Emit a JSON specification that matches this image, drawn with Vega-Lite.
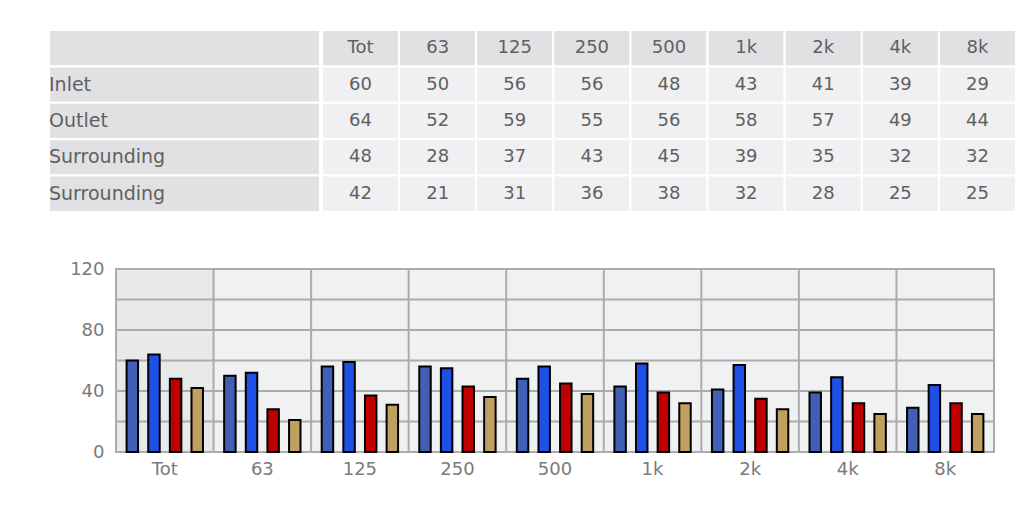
{
  "$schema": "https://vega.github.io/schema/vega-lite/v6.json",
  "padding": {"left": 48, "top": 29, "right": 0, "bottom": 0},
  "background": "white",
  "spacing": 46,
  "config": {
    "view": {"stroke": null},
    "font": "DejaVu Sans",
    "concat": {"spacing": 0}
  },
  "datasets": {
    "levels": [
      {"id": "s1", "series": "Inlet", "band": "Tot", "value": 60},
      {"id": "s1", "series": "Inlet", "band": "63", "value": 50},
      {"id": "s1", "series": "Inlet", "band": "125", "value": 56},
      {"id": "s1", "series": "Inlet", "band": "250", "value": 56},
      {"id": "s1", "series": "Inlet", "band": "500", "value": 48},
      {"id": "s1", "series": "Inlet", "band": "1k", "value": 43},
      {"id": "s1", "series": "Inlet", "band": "2k", "value": 41},
      {"id": "s1", "series": "Inlet", "band": "4k", "value": 39},
      {"id": "s1", "series": "Inlet", "band": "8k", "value": 29},
      {"id": "s2", "series": "Outlet", "band": "Tot", "value": 64},
      {"id": "s2", "series": "Outlet", "band": "63", "value": 52},
      {"id": "s2", "series": "Outlet", "band": "125", "value": 59},
      {"id": "s2", "series": "Outlet", "band": "250", "value": 55},
      {"id": "s2", "series": "Outlet", "band": "500", "value": 56},
      {"id": "s2", "series": "Outlet", "band": "1k", "value": 58},
      {"id": "s2", "series": "Outlet", "band": "2k", "value": 57},
      {"id": "s2", "series": "Outlet", "band": "4k", "value": 49},
      {"id": "s2", "series": "Outlet", "band": "8k", "value": 44},
      {"id": "s3", "series": "Surrounding", "band": "Tot", "value": 48},
      {"id": "s3", "series": "Surrounding", "band": "63", "value": 28},
      {"id": "s3", "series": "Surrounding", "band": "125", "value": 37},
      {"id": "s3", "series": "Surrounding", "band": "250", "value": 43},
      {"id": "s3", "series": "Surrounding", "band": "500", "value": 45},
      {"id": "s3", "series": "Surrounding", "band": "1k", "value": 39},
      {"id": "s3", "series": "Surrounding", "band": "2k", "value": 35},
      {"id": "s3", "series": "Surrounding", "band": "4k", "value": 32},
      {"id": "s3", "series": "Surrounding", "band": "8k", "value": 32},
      {"id": "s4", "series": "Surrounding", "band": "Tot", "value": 42},
      {"id": "s4", "series": "Surrounding", "band": "63", "value": 21},
      {"id": "s4", "series": "Surrounding", "band": "125", "value": 31},
      {"id": "s4", "series": "Surrounding", "band": "250", "value": 36},
      {"id": "s4", "series": "Surrounding", "band": "500", "value": 38},
      {"id": "s4", "series": "Surrounding", "band": "1k", "value": 32},
      {"id": "s4", "series": "Surrounding", "band": "2k", "value": 28},
      {"id": "s4", "series": "Surrounding", "band": "4k", "value": 25},
      {"id": "s4", "series": "Surrounding", "band": "8k", "value": 25}
    ],
    "bands": [
      {"band": "Tot"}, {"band": "63"}, {"band": "125"}, {"band": "250"}, {"band": "500"},
      {"band": "1k"}, {"band": "2k"}, {"band": "4k"}, {"band": "8k"}
    ],
    "rows": [
      {"id": "h", "series": ""},
      {"id": "s1", "series": "Inlet"},
      {"id": "s2", "series": "Outlet"},
      {"id": "s3", "series": "Surrounding"},
      {"id": "s4", "series": "Surrounding"}
    ],
    "grid": [
      {"v": 0}, {"v": 20}, {"v": 40}, {"v": 60}, {"v": 80}, {"v": 100}, {"v": 120}
    ]
  },
  "vconcat": [
    {
      "spacing": 0,
      "hconcat": [
        {
          "width": 271,
          "height": 182,
          "data": {"name": "rows"},
          "encoding": {
            "y": {"field": "id", "type": "nominal", "axis": null,
                  "scale": {"domain": ["h", "s1", "s2", "s3", "s4"], "paddingInner": 0, "paddingOuter": 0}}
          },
          "layer": [
            {
              "mark": {"type": "rect", "fill": "#e1e1e3", "stroke": "white", "strokeWidth": 2},
              "encoding": {
                "x": {"datum": 0, "type": "quantitative", "axis": null, "scale": {"domain": [0, 1]}},
                "x2": {"datum": 1}
              }
            },
            {
              "mark": {"type": "text", "align": "left", "baseline": "middle", "fontSize": 19, "fill": "#606060"},
              "encoding": {
                "x": {"datum": 0, "type": "quantitative"},
                "text": {"field": "series"}
              }
            }
          ]
        },
        {
          "width": 694,
          "height": 182,
          "encoding": {
            "x": {"field": "band", "type": "nominal", "axis": null,
                  "scale": {"domain": ["Tot", "63", "125", "250", "500", "1k", "2k", "4k", "8k"], "paddingInner": 0, "paddingOuter": 0}},
            "y": {"field": "id", "type": "nominal", "axis": null,
                  "scale": {"domain": ["h", "s1", "s2", "s3", "s4"], "paddingInner": 0, "paddingOuter": 0}}
          },
          "layer": [
            {
              "data": {"name": "bands"},
              "mark": {"type": "rect", "fill": "#e1e1e3", "stroke": "white", "strokeWidth": 2},
              "encoding": {"y": {"datum": "h"}}
            },
            {
              "data": {"name": "bands"},
              "mark": {"type": "text", "baseline": "middle", "fontSize": 18, "fill": "#606060"},
              "encoding": {"y": {"datum": "h"}, "text": {"field": "band"}}
            },
            {
              "data": {"name": "levels"},
              "mark": {"type": "rect", "fill": "#f0f0f2", "stroke": "white", "strokeWidth": 2}
            },
            {
              "data": {"name": "levels"},
              "mark": {"type": "text", "baseline": "middle", "fontSize": 18, "fill": "#606060"},
              "encoding": {"text": {"field": "value", "type": "quantitative"}}
            }
          ]
        }
      ]
    },
    {
      "spacing": 0,
      "hconcat": [
        {
          "width": 19,
          "height": 183,
          "data": {"values": []},
          "mark": "rect"
        },
        {
          "width": 878,
          "height": 183,
          "view": {"stroke": "#aaaaaa", "strokeWidth": 2, "fill": "#f0f1f3"},
          "encoding": {
            "x": {"field": "band", "type": "nominal", "title": null,
                  "scale": {"domain": ["Tot", "63", "125", "250", "500", "1k", "2k", "4k", "8k"], "paddingInner": 0, "paddingOuter": 0},
                  "axis": {"labelAngle": 0, "ticks": false, "domain": false, "labelFontSize": 18, "labelColor": "#7a7a7a", "labelPadding": 8, "grid": false}}
          },
          "layer": [
            {
              "data": {"name": "bands"},
              "transform": [{"filter": "datum.band === 'Tot'"}],
              "mark": {"type": "rect", "fill": "#e8e9eb"},
              "encoding": {"y": {"datum": 0, "type": "quantitative"}, "y2": {"datum": 120}}
            },
            {
              "data": {"name": "grid"},
              "mark": {"type": "rule", "stroke": "#acacac", "strokeWidth": 2},
              "encoding": {"x": null, "y": {"field": "v", "type": "quantitative"}}
            },
            {
              "data": {"name": "bands"},
              "mark": {"type": "rule", "stroke": "#acacac", "strokeWidth": 2},
              "encoding": {"x": {"field": "band", "type": "nominal", "bandPosition": 0}}
            },
            {
              "data": {"name": "levels"},
              "mark": {"type": "bar", "stroke": "black", "strokeWidth": 2},
              "encoding": {
                "xOffset": {"field": "id", "type": "nominal", "scale": {"paddingInner": 0.47, "paddingOuter": 0.49}},
                "y": {"field": "value", "type": "quantitative", "title": null,
                      "scale": {"domain": [0, 120]},
                      "axis": {"values": [0, 40, 80, 120], "ticks": false, "domain": false, "grid": false, "labelFontSize": 18, "labelColor": "#7a7a7a", "labelPadding": 12}},
                "color": {"field": "id", "type": "nominal", "legend": null,
                          "scale": {"domain": ["s1", "s2", "s3", "s4"], "range": ["#415fb4", "#1e50e6", "#c00000", "#c0a060"]}}
              }
            }
          ]
        }
      ]
    }
  ]
}
